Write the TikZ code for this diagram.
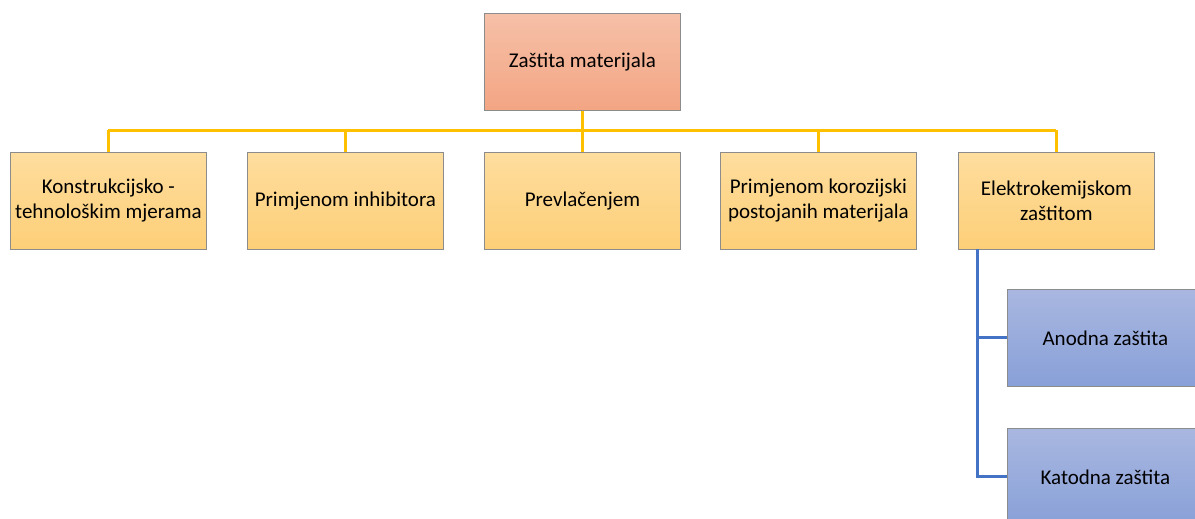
\documentclass[tikz,border=0pt]{standalone}
\usepackage{fontspec}
\setmainfont{Carlito}
\begin{document}
\begin{tikzpicture}[x=1pt,y=-1pt,
  box/.style={draw=black!45, line width=0.8pt, minimum width=196pt, minimum height=97pt,
    inner sep=2pt, align=center, font=\fontsize{21}{25}\selectfont, anchor=north west},
  topbox/.style={box, top color=salmonTop, bottom color=salmonBot},
  midbox/.style={box, top color=yelTop, bottom color=yelBot},
  bluebox/.style={box, top color=bluTop, bottom color=bluBot},
  yline/.style={draw=lineY, line width=3pt},
  bline/.style={draw=lineB, line width=3pt}]
\definecolor{salmonTop}{HTML}{F6C0A8}
\definecolor{salmonBot}{HTML}{F3A583}
\definecolor{yelTop}{HTML}{FEDD9E}
\definecolor{yelBot}{HTML}{FDCF78}
\definecolor{bluTop}{HTML}{A9B7E0}
\definecolor{bluBot}{HTML}{88A0D8}
\definecolor{lineY}{HTML}{FFC000}
\definecolor{lineB}{HTML}{4472C4}
\useasboundingbox (0,0) rectangle (1195,519);
\clip (0,0) rectangle (1195,519);
\coordinate (hl) at (108,130);
\coordinate (hr) at (1056,130);
\node[topbox] (top) at (484,13) {Zaštita materijala};
\node[midbox] (a) at (10,152) {Konstrukcijsko -\\tehnološkim mjerama};
\node[midbox] (b) at (247,152) {Primjenom inhibitora};
\node[midbox] (c) at (484,152) {Prevlačenjem};
\node[midbox] (d) at (720,152) {Primjenom korozijski\\postojanih materijala};
\node[midbox] (e) at (958,152) {Elektrokemijskom\\zaštitom};
\node[bluebox] (f) at (1007,289) {Anodna zaštita};
\node[bluebox] (g) at (1007,428) {Katodna zaštita};
\draw[yline] (top.south) -- (top.south |- hl);
\draw[yline] (hl) -- (hr);
\foreach \n in {a,b,c,d,e} \draw[yline] (\n.north |- hl) -- (\n.north);
\coordinate (bt) at (977,249);
\draw[bline] (bt) |- (f.west);
\draw[bline] (bt) |- (g.west);
\end{tikzpicture}
\end{document}
